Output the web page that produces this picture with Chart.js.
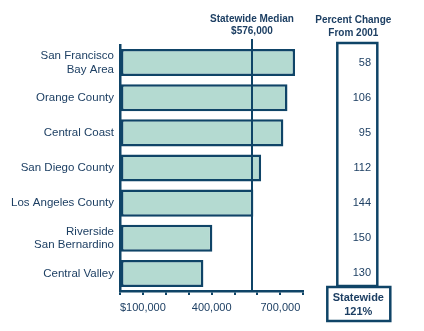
<!DOCTYPE html>
<html>
<head>
<meta charset="utf-8">
<script src="https://cdn.jsdelivr.net/npm/chart.js@4/dist/chart.umd.min.js"></script>
<style>
  html, body { margin: 0; padding: 0; background: #fff; }
  #wrap { width: 424px; height: 331px; }
</style>
</head>
<body>
<div id="wrap"><canvas id="precos_regiao"></canvas></div>
<script>
/* Preço mediano de casas por região, com variação percentual desde 2001 */
const regioes = [
  ['San Francisco', 'Bay Area'],
  'Orange County',
  'Central Coast',
  'San Diego County',
  'Los Angeles County',
  ['Riverside', 'San Bernardino'],
  'Central Valley'
];
const precos_medianos = [764000, 731000, 713000, 616000, 582000, 403000, 364000];
const variacao_2001 = [58, 106, 95, 112, 144, 150, 130];
const mediana_estado = 576000;
const variacao_estado = 121;
const rotulos_eixo = { 100000: '$100,000', 400000: '400,000', 700000: '700,000' };

const AZUL = '#0f4467';
const TEXTO = '#1d3f63';
const VERDE = '#b4dad1';
const FONTE = 'Liberation Sans, Arial, Helvetica, sans-serif';

Chart.defaults.font.family = FONTE;
Chart.defaults.color = TEXTO;

// tira o espaço extra que o Chart.js reserva para os rótulos das pontas
function semPadding(s) {
  s.paddingTop = 0;
  s.paddingBottom = 0;
  s.paddingLeft = 0;
  s.paddingRight = 0;
}

/* linha da mediana estadual, cabeçalhos e caixas da coluna de variação */
const decoracao = {
  id: 'decoracao',
  afterDatasetsDraw(chart) {
    const { ctx, chartArea, scales } = chart;
    const xm = scales.x.getPixelForValue(mediana_estado);
    ctx.save();
    ctx.strokeStyle = AZUL;
    ctx.lineWidth = 2;
    ctx.beginPath();
    ctx.moveTo(xm, chartArea.top - 6);
    ctx.lineTo(xm, chartArea.bottom);
    ctx.stroke();

    ctx.fillStyle = TEXTO;
    ctx.textAlign = 'center';
    ctx.textBaseline = 'middle';
    ctx.font = 'bold 10px ' + FONTE;
    ctx.fillText('Statewide Median', xm, 19);
    ctx.fillText('$' + mediana_estado.toLocaleString('en-US'), xm, 31);

    const cx = chartArea.right + 53;
    ctx.fillText('Percent Change', cx - 3, 20);
    ctx.fillText('From 2001', cx - 3, 33);

    ctx.lineWidth = 2.5;
    ctx.strokeRect(cx - 19, chartArea.top - 2, 40, chartArea.bottom - chartArea.top - 3);
    ctx.strokeRect(cx - 29, chartArea.bottom - 4, 63, 34);
    ctx.font = 'bold 11px ' + FONTE;
    ctx.fillText('Statewide', cx + 2, chartArea.bottom + 7);
    ctx.fillText(variacao_estado + '%', cx + 2, chartArea.bottom + 21);
    ctx.restore();
  }
};

const data_precos = {
  labels: regioes,
  datasets: [{
    data: precos_medianos,
    backgroundColor: VERDE,
    borderColor: AZUL,
    borderWidth: 2.5,
    borderSkipped: false,
    barPercentage: 0.77,
    categoryPercentage: 1
  }]
};

const config_precos = {
  type: 'bar',
  data: data_precos,
  plugins: [decoracao],
  options: {
    indexAxis: 'y',
    responsive: true,
    maintainAspectRatio: false,
    animation: false,
    layout: { padding: { top: 45, left: 0, right: 53, bottom: 0 } },
    plugins: { legend: { display: false }, tooltip: { enabled: false } },
    scales: {
      x: {
        min: 0,
        max: 800000,
        afterFit(s) { s.height = 40; semPadding(s); },
        grid: { drawOnChartArea: false, drawTicks: true, tickLength: 4, color: AZUL, lineWidth: 2 },
        border: { display: true, color: AZUL, width: 2.5 },
        ticks: {
          stepSize: 100000,
          autoSkip: false,
          maxRotation: 0,
          padding: 6,
          font: { size: 11 },
          callback: v => rotulos_eixo[v] || ''
        }
      },
      y: {
        afterFit(s) { s.width = 120; semPadding(s); },
        grid: { display: false, drawTicks: false },
        border: { display: true, color: AZUL, width: 2.5 },
        ticks: { padding: 6, font: { size: 11.5, lineHeight: 1.2 } }
      },
      y2: {
        type: 'category',
        position: 'right',
        labels: variacao_2001.map(String),
        offset: true,
        afterFit(s) { s.width = 67.7; semPadding(s); },
        grid: { display: false, drawTicks: false },
        border: { display: false },
        ticks: { crossAlign: 'far', padding: 0, font: { size: 11 } }
      }
    }
  }
};

const grafico_precos = new Chart(document.getElementById('precos_regiao'), config_precos);
</script>
</body>
</html>
